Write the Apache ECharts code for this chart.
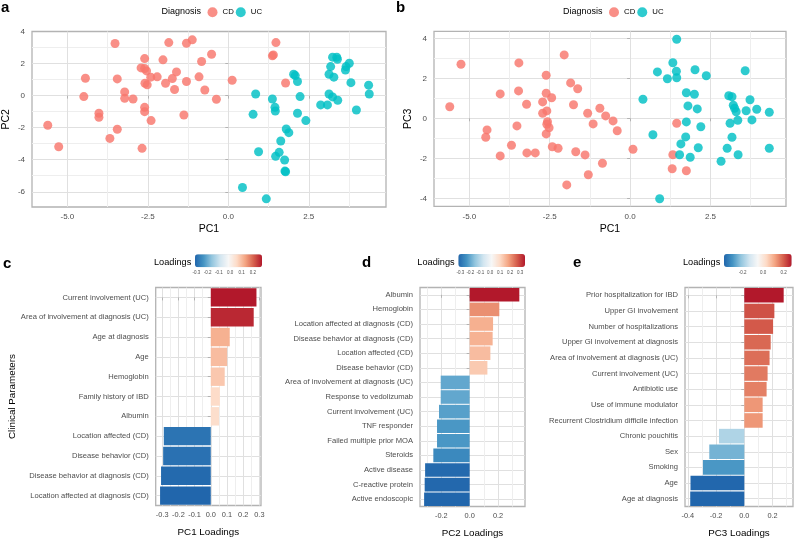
<!DOCTYPE html>
<html><head><meta charset="utf-8">
<script src="https://cdn.jsdelivr.net/npm/echarts@6/dist/echarts.min.js"></script>
<style>html,body{margin:0;padding:0;background:#fff}#chart{width:795px;height:540px}</style>
</head><body><div id="chart"></div>
<script>
// ---------------- DATA ----------------
const cdPC1PC2 = [[-5.61,-1.85],[-5.27,-3.19],[-4.44,1.08],[-4.49,-0.06],[-4.02,-1.10],[-4.02,-1.35],[-3.52,3.25],[-3.45,1.04],[-3.22,0.23],[-3.22,-0.17],[-2.96,-0.21],[-3.45,-2.10],[-3.68,-2.67],[-2.68,-3.29],[-2.60,2.31],[-2.71,1.73],[-2.60,1.69],[-2.54,1.54],[-2.59,0.77],[-2.52,0.67],[-2.41,1.15],[-2.60,-0.73],[-2.60,-1.00],[-2.40,-1.56],[-2.21,1.17],[-2.03,2.23],[-1.95,0.77],[-1.85,3.31],[-1.74,1.06],[-1.61,1.48],[-1.67,0.38],[-1.30,3.27],[-1.12,3.48],[-1.30,0.88],[-1.38,-1.21],[-0.91,1.17],[-0.83,2.13],[-0.73,0.35],[-0.52,2.58],[-0.37,-0.23],[0.12,0.96],[1.37,2.48],[1.40,2.54],[1.48,3.31],[1.78,0.79]];
const ucPC1PC2 = [[0.44,-5.73],[1.18,-6.44],[0.85,0.10],[0.77,-1.17],[0.94,-3.50],[1.37,-0.21],[1.45,-0.73],[1.46,-0.96],[1.47,-3.79],[1.58,-3.54],[1.63,-2.83],[1.75,-4.02],[1.76,-4.71],[1.78,-4.75],[1.80,-2.08],[1.88,-2.31],[2.03,1.33],[2.08,1.25],[2.15,0.88],[2.23,-0.06],[2.15,-1.10],[2.41,-1.56],[2.87,-0.58],[3.08,-0.58],[3.13,0.10],[3.24,-0.08],[3.40,-0.29],[3.13,1.33],[3.18,1.81],[3.28,1.15],[3.24,2.40],[3.37,2.40],[3.39,2.27],[3.64,1.60],[3.66,1.81],[3.76,2.02],[3.81,0.81],[3.98,-0.90],[4.36,0.65],[4.38,0.10]];
const cdPC1PC3 = [[-5.61,0.58],[-5.26,2.70],[-4.45,-0.58],[-4.49,-0.95],[-4.04,1.22],[-4.04,-1.88],[-3.46,2.77],[-3.47,1.37],[-3.52,-0.38],[-3.69,-1.35],[-3.22,0.70],[-3.21,-1.73],[-2.95,-1.73],[-2.72,0.82],[-2.72,0.25],[-2.61,2.15],[-2.61,1.25],[-2.59,0.37],[-2.57,-0.17],[-2.59,-0.30],[-2.52,-0.47],[-2.61,-0.78],[-2.44,1.03],[-2.42,-1.42],[-2.24,-1.50],[-2.05,3.17],[-1.85,1.77],[-1.63,1.48],[-1.76,0.68],[-1.69,-1.67],[-1.97,-3.33],[-1.32,0.25],[-1.15,-0.28],[-1.40,-1.83],[-1.30,-2.82],[-0.94,0.50],[-0.76,0.12],[-0.86,-2.25],[-0.53,-0.13],[-0.40,-0.62],[0.09,-1.55],[1.45,-0.25],[1.33,-1.82],[1.31,-2.52],[1.75,-2.62]];
const ucPC1PC3 = [[0.40,0.95],[0.71,-0.82],[0.85,2.32],[0.92,-4.02],[1.16,1.98],[1.33,2.78],[1.44,2.35],[1.45,2.03],[1.45,3.95],[1.75,1.28],[1.80,0.62],[1.75,-0.18],[1.73,-0.93],[1.58,-1.28],[1.54,-1.82],[1.87,-1.95],[2.00,1.20],[2.02,2.43],[2.09,0.47],[2.12,-1.47],[2.20,-0.42],[2.37,2.13],[2.83,-2.15],[3.02,-1.50],[3.07,1.13],[3.17,1.08],[3.21,0.65],[3.25,0.50],[3.30,0.33],[3.11,-0.25],[3.17,-0.95],[3.35,-0.10],[3.36,-1.82],[3.58,2.38],[3.61,0.38],[3.73,0.93],[3.79,-0.08],[3.94,0.45],[4.33,0.30],[4.33,-1.50]];

const pc1Params = ['Current involvement (UC)','Area of involvement at diagnosis (UC)','Age at diagnosis','Age','Hemoglobin','Family history of IBD','Albumin','Location affected (CD)','Disease behavior (CD)','Disease behavior at diagnosis (CD)','Location affected at diagnosis (CD)'];
const pc1Loadings = [0.282,0.265,0.117,0.101,0.086,0.056,0.051,-0.290,-0.294,-0.307,-0.313];

const pc2Params = ['Albumin','Hemoglobin','Location affected at diagnosis (CD)','Disease behavior at diagnosis (CD)','Location affected (CD)','Disease behavior (CD)','Area of involvement at diagnosis (UC)','Response to vedolizumab','Current involvement (UC)','TNF responder','Failed multiple prior MOA','Steroids','Active disease','C-reactive protein','Active endoscopic'];
const pc2Loadings = [0.350,0.209,0.165,0.162,0.146,0.125,-0.204,-0.204,-0.216,-0.230,-0.230,-0.256,-0.314,-0.317,-0.321];

const pc3Params = ['Prior hospitalization for IBD','Upper GI involvement','Number of hospitalizations','Upper GI involvement at diagnosis','Area of involvement at diagnosis (UC)','Current involvement (UC)','Antibiotic use','Use of immune modulator','Recurrent Clostridium difficile infection','Chronic pouchitis','Sex','Smoking','Age','Age at diagnosis'];
const pc3Loadings = [0.279,0.213,0.204,0.187,0.179,0.165,0.158,0.130,0.130,-0.179,-0.248,-0.293,-0.381,-0.383];

const scatterXTicks = [-5, -2.5, 0, 2.5];
const pc2Ticks = [-6, -4, -2, 0, 2, 4];
const pc3Ticks = [-4, -2, 0, 2, 4];
const pc1LoadTicks = [-0.3, -0.2, -0.1, 0, 0.1, 0.2, 0.3];
const pc2LoadTicks = [-0.2, 0, 0.2];
const pc3LoadTicks = [-0.4, -0.2, 0, 0.2];
const cBarTicks = [-0.3, -0.2, -0.1, 0, 0.1, 0.2];
const dBarTicks = [-0.3, -0.2, -0.1, 0, 0.1, 0.2, 0.3];
const eBarTicks = [-0.2, 0, 0.2];

// ---------------- STYLE ----------------
const FONT = '"Liberation Sans", Arial, sans-serif';
const RDBU = ['#2166ac','#4393c3','#92c5de','#d1e5f0','#f7f7f7','#fddbc7','#f4a582','#d6604d','#b2182b'];
const CD_COLOR = '#F8766D', UC_COLOR = '#00BFC4';
const MAJOR = '#e0e0e0', MINOR = '#eeeeee', BORDER = '#b3b3b3', TXT = '#4d4d4d';
const CLEAR = 'rgba(0,0,0,0)';

function gridColors(min, step, minor, major) {
  const n = Math.round(major / step), arr = [];
  for (let j = 0; j < n; j++) {
    const v = min + j * step;
    const isMaj = Math.abs(v / major - Math.round(v / major)) < 1e-6;
    const isMin = Math.abs(v / minor - Math.round(v / minor)) < 1e-6;
    arr.push(isMaj ? MAJOR : (isMin ? MINOR : CLEAR));
  }
  return arr;
}

const grids = [], xAxes = [], yAxes = [], series = [], visualMaps = [], titles = [], legends = [];

function gridLineAxis(gi, min, max, step, minor, major, pos, inverse) {
  return {type: 'value', gridIndex: gi, position: pos, min: min, max: max, interval: step, inverse: !!inverse,
    axisLine: {show: false}, axisTick: {show: false}, axisLabel: {show: false},
    splitLine: {show: true, showMinLine: true, showMaxLine: false, lineStyle: {color: gridColors(min, step, minor, major), width: 1}}};
}

function scatterPanel(p) {
  const gi = grids.length;
  grids.push({left: p.left, top: p.top, width: p.width, height: p.height, show: true, borderColor: BORDER, borderWidth: 1.3});
  const xi = xAxes.length;
  xAxes.push({type: 'value', gridIndex: gi, position: 'bottom', min: p.xMin, max: p.xMax,
    axisLine: {show: false},
    axisTick: {show: true, customValues: p.xTicks, length: 3, lineStyle: {color: BORDER}},
    axisLabel: {customValues: p.xTicks, formatter: v => v.toFixed(1), color: TXT, fontSize: 8, margin: 6, fontFamily: FONT},
    splitLine: {show: false},
    name: p.xName, nameLocation: 'middle', nameGap: 17, nameTextStyle: {fontSize: 10.5, color: '#000', fontFamily: FONT}});
  xAxes.push(gridLineAxis(gi, p.xMin, p.xMax, 0.05, 1.25, 2.5, 'top'));
  const yi = yAxes.length;
  yAxes.push({type: 'value', gridIndex: gi, position: 'left', min: p.yMin, max: p.yMax,
    axisLine: {show: false},
    axisTick: {show: true, customValues: p.yTicks, length: 3, lineStyle: {color: BORDER}},
    axisLabel: {customValues: p.yTicks, formatter: v => String(Math.round(v)), color: TXT, fontSize: 8, margin: 7, fontFamily: FONT},
    splitLine: {show: false},
    name: p.yName, nameLocation: 'middle', nameGap: 20, nameTextStyle: {fontSize: 10.5, color: '#000', fontFamily: FONT}});
  yAxes.push(gridLineAxis(gi, p.yMin, p.yMax, 0.05, 1, 2, 'right'));
  [['CD', p.cd, CD_COLOR], ['UC', p.uc, UC_COLOR]].forEach(([name, data, color]) => {
    series.push({type: 'scatter', name: name, xAxisIndex: xi, yAxisIndex: yi, data: data, symbol: 'circle', symbolSize: 9,
      itemStyle: {color: color, opacity: 0.82}, z: 3, silent: true});
  });
  titles.push({text: p.letter, left: p.letterX, top: p.letterY, padding: 0, textStyle: {fontSize: 15, fontWeight: 'bold', color: '#000', fontFamily: FONT}});
  titles.push({text: 'Diagnosis', left: p.legX, top: p.legY - 5.5, padding: 0, textStyle: {fontSize: 9, fontWeight: 'normal', color: '#000', fontFamily: FONT}});
  legends.push({data: ['CD', 'UC'], left: p.legX + 46, top: p.legY - 5, itemWidth: 10, itemHeight: 10, itemGap: 2, icon: 'circle', padding: 0,
    selectedMode: false, textStyle: {fontSize: 7.8, color: '#000', fontFamily: FONT}});
}

function barPanel(p) {
  const gi = grids.length;
  grids.push({left: p.left, top: p.top, width: p.width, height: p.height, show: true, borderColor: BORDER, borderWidth: 1.3});
  const xi = xAxes.length;
  xAxes.push({type: 'value', gridIndex: gi, position: 'bottom', min: p.xMin, max: p.xMax,
    axisLine: {show: false},
    axisTick: {show: true, customValues: p.xTicks, length: 3, lineStyle: {color: BORDER}},
    axisLabel: {customValues: p.xTicks, formatter: v => v.toFixed(1), color: TXT, fontSize: 7.4, margin: 6, fontFamily: FONT},
    splitLine: {show: false},
    name: p.xName, nameLocation: 'middle', nameGap: 22, nameTextStyle: {fontSize: 9.8, color: '#000', fontFamily: FONT}});
  xAxes.push(gridLineAxis(gi, p.xMin, p.xMax, 0.01, p.minor, p.major, 'top'));
  const yi = yAxes.length;
  const n = p.cats.length;
  yAxes.push({type: 'category', gridIndex: gi, position: 'left', data: p.cats, inverse: true,
    axisLine: {show: false},
    axisTick: {show: true, alignWithLabel: true, length: 3, lineStyle: {color: BORDER}},
    axisLabel: {interval: 0, color: TXT, fontSize: 7.6, margin: 7, fontFamily: FONT},
    splitLine: {show: false},
    name: p.yName || '', nameLocation: 'middle', nameGap: 138, nameTextStyle: {fontSize: 9.8, color: '#000', fontFamily: FONT}});
  yAxes.push(gridLineAxis(gi, -0.5, n - 0.5, 0.5, 1, 1, 'right', true));
  const si = series.length;
  series.push({type: 'bar', name: p.letter, xAxisIndex: xi, yAxisIndex: yi, barCategoryGap: '7%', z: 2, silent: true,
    data: p.cats.map((c, i) => [p.vals[i], c])});
  const vmin = Math.min(...p.vals), vmax = Math.max(...p.vals);
  visualMaps.push({type: 'continuous', seriesIndex: si, dimension: 0, min: vmin, max: vmax, inRange: {color: RDBU},
    orient: 'horizontal', left: p.cbLeft, top: p.cbTop, itemWidth: 13, itemHeight: p.cbLen, calculable: false,
    hoverLink: false, padding: 0, text: null, showLabel: false});
  const cg = grids.length;
  grids.push({left: p.cbLeft, top: p.cbTop + 13, width: p.cbLen, height: 1, show: false});
  xAxes.push({type: 'value', gridIndex: cg, min: vmin, max: vmax, axisLine: {show: false}, axisTick: {show: false},
    splitLine: {show: false},
    axisLabel: {customValues: p.cbTicks, formatter: v => v.toFixed(1), fontSize: 4.5, color: TXT, margin: 2, fontFamily: FONT}});
  yAxes.push({type: 'value', gridIndex: cg, show: false});
  titles.push({text: p.letter, left: p.letterX, top: p.letterY, padding: 0, textStyle: {fontSize: 15, fontWeight: 'bold', color: '#000', fontFamily: FONT}});
  titles.push({text: 'Loadings', left: p.cbLeft - 41, top: p.cbTop + 4, padding: 0, textStyle: {fontSize: 9.2, fontWeight: 'normal', color: '#000', fontFamily: FONT}});
}

scatterPanel({letter: 'a', letterX: 1, letterY: 0, left: 32, top: 31.5, width: 354, height: 175.5,
  xMin: -6.1, xMax: 4.9, yMin: -6.95, yMax: 4.0, xTicks: scatterXTicks, yTicks: pc2Ticks,
  xName: 'PC1', yName: 'PC2', cd: cdPC1PC2, uc: ucPC1PC2, legX: 161.5, legY: 12.3});
scatterPanel({letter: 'b', letterX: 396, letterY: 0, left: 434, top: 31.3, width: 352, height: 175,
  xMin: -6.1, xMax: 4.85, yMin: -4.4, yMax: 4.35, xTicks: scatterXTicks, yTicks: pc3Ticks,
  xName: 'PC1', yName: 'PC3', cd: cdPC1PC3, uc: ucPC1PC3, legX: 563, legY: 12.3});
barPanel({letter: 'c', letterX: 3, letterY: 256, left: 155.7, top: 287.5, width: 105.3, height: 218,
  xMin: -0.34, xMax: 0.31, minor: 0.05, major: 0.1, xTicks: pc1LoadTicks, xName: 'PC1 Loadings', yName: 'Clinical Parameters',
  cats: pc1Params, vals: pc1Loadings, cbLeft: 195, cbTop: 254.3, cbLen: 67, cbTicks: cBarTicks});
barPanel({letter: 'd', letterX: 362, letterY: 255, left: 420, top: 287.5, width: 105, height: 219,
  xMin: -0.35, xMax: 0.39, minor: 0.1, major: 0.2, xTicks: pc2LoadTicks, xName: 'PC2 Loadings',
  cats: pc2Params, vals: pc2Loadings, cbLeft: 458.3, cbTop: 254, cbLen: 66.7, cbTicks: dBarTicks});
barPanel({letter: 'e', letterX: 573, letterY: 255, left: 685, top: 287.5, width: 108, height: 219,
  xMin: -0.42, xMax: 0.345, minor: 0.1, major: 0.2, xTicks: pc3LoadTicks, xName: 'PC3 Loadings',
  cats: pc3Params, vals: pc3Loadings, cbLeft: 724, cbTop: 254, cbLen: 67.7, cbTicks: eBarTicks});

const chart = echarts.init(document.getElementById('chart'), null, {renderer: 'canvas'});
chart.setOption({
  animation: false,
  backgroundColor: '#fff',
  textStyle: {fontFamily: FONT},
  title: titles, legend: legends, grid: grids, xAxis: xAxes, yAxis: yAxes,
  visualMap: visualMaps, series: series
});
</script></body></html>
